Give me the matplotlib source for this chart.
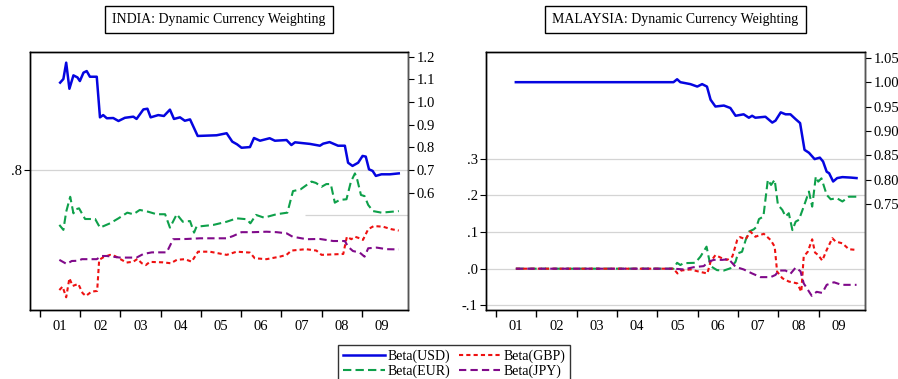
import numpy as np
import matplotlib
matplotlib.use("Agg")
import matplotlib.pyplot as plt
from matplotlib.ticker import FixedLocator, FuncFormatter

plt.rcParams['font.family'] = ['Liberation Serif', 'DejaVu Serif']

years = list(range(2001, 2010))
year_labels = ["01", "02", "03", "04", "05", "06", "07", "08", "09"]

# ---- INDIA ----
india_usd_t = [2001.50, 2001.58, 2001.65, 2001.73, 2001.83, 2001.93, 2001.99, 2002.08, 2002.16, 2002.24,
               2002.41, 2002.49, 2002.57, 2002.66, 2002.82, 2002.95, 2003.11, 2003.32, 2003.40, 2003.57,
               2003.67, 2003.75, 2003.94, 2004.08, 2004.23, 2004.33, 2004.48, 2004.60, 2004.73, 2004.92,
               2005.39, 2005.64, 2005.78, 2005.90, 2006.01, 2006.22, 2006.32, 2006.47, 2006.71, 2006.84,
               2007.13, 2007.25, 2007.34, 2007.71, 2007.96, 2008.04, 2008.20, 2008.41, 2008.58, 2008.66,
               2008.77, 2008.91, 2009.02, 2009.10, 2009.18, 2009.27, 2009.35, 2009.49, 2009.70, 2009.92]
india_usd = [1.085, 1.101, 1.173, 1.058, 1.117, 1.108, 1.092, 1.129, 1.136, 1.111,
             1.111, 0.932, 0.942, 0.928, 0.929, 0.916, 0.930, 0.935, 0.925, 0.967,
             0.970, 0.932, 0.942, 0.938, 0.966, 0.925, 0.932, 0.917, 0.923, 0.850,
             0.853, 0.862, 0.825, 0.813, 0.798, 0.801, 0.841, 0.829, 0.840, 0.829,
             0.832, 0.810, 0.822, 0.815, 0.807, 0.816, 0.823, 0.807, 0.807, 0.732,
             0.718, 0.732, 0.762, 0.759, 0.703, 0.696, 0.674, 0.681, 0.681, 0.685]

india_eur_t = [2001.48, 2001.58, 2001.65, 2001.75, 2001.83, 2001.89, 2001.97, 2002.12, 2002.37, 2002.49,
               2002.74, 2002.95, 2003.17, 2003.32, 2003.48, 2003.69, 2003.90, 2004.11, 2004.23, 2004.40,
               2004.55, 2004.73, 2004.83, 2004.89, 2005.31, 2005.64, 2005.89, 2006.14, 2006.23, 2006.37,
               2006.57, 2006.88, 2007.15, 2007.29, 2007.48, 2007.63, 2007.75, 2007.86, 2008.00, 2008.12,
               2008.23, 2008.33, 2008.45, 2008.62, 2008.73, 2008.83, 2008.89, 2008.98, 2009.07, 2009.16,
               2009.28, 2009.49, 2009.74, 2009.92]
india_eur = [0.558, 0.536, 0.616, 0.682, 0.609, 0.627, 0.631, 0.584, 0.584, 0.546,
             0.565, 0.587, 0.612, 0.605, 0.624, 0.616, 0.605, 0.605, 0.546, 0.605,
             0.572, 0.575, 0.524, 0.550, 0.558, 0.572, 0.587, 0.583, 0.565, 0.602,
             0.590, 0.605, 0.612, 0.707, 0.715, 0.734, 0.749, 0.743, 0.726, 0.738,
             0.738, 0.656, 0.668, 0.671, 0.748, 0.785, 0.756, 0.690, 0.685, 0.646,
             0.619, 0.612, 0.616, 0.619]

india_gbp_t = [2001.48, 2001.56, 2001.65, 2001.73, 2001.81, 2001.95, 2002.06, 2002.14, 2002.28, 2002.42,
               2002.47, 2002.57, 2002.74, 2002.86, 2003.03, 2003.15, 2003.32, 2003.42, 2003.53, 2003.63,
               2003.73, 2004.06, 2004.25, 2004.40, 2004.60, 2004.77, 2004.93, 2005.22, 2005.64, 2005.89,
               2006.22, 2006.34, 2006.63, 2006.96, 2007.13, 2007.25, 2007.61, 2007.87, 2008.00, 2008.54,
               2008.63, 2008.74, 2008.83, 2008.95, 2009.03, 2009.16, 2009.30, 2009.53, 2009.74, 2009.92]
india_gbp = [0.271, 0.286, 0.239, 0.323, 0.289, 0.298, 0.257, 0.245, 0.264, 0.267,
             0.404, 0.415, 0.426, 0.421, 0.404, 0.392, 0.396, 0.408, 0.389, 0.381,
             0.395, 0.393, 0.389, 0.404, 0.407, 0.396, 0.440, 0.440, 0.426, 0.440,
             0.436, 0.411, 0.407, 0.418, 0.426, 0.445, 0.451, 0.445, 0.426, 0.430,
             0.506, 0.495, 0.506, 0.499, 0.492, 0.539, 0.553, 0.550, 0.539, 0.533]

india_jpy_t = [2001.48, 2001.66, 2001.79, 2001.95, 2002.04, 2002.41, 2002.53, 2002.66, 2002.99, 2003.40,
               2003.57, 2003.78, 2004.15, 2004.31, 2004.64, 2004.98, 2005.64, 2005.80, 2006.01, 2006.30,
               2006.63, 2006.88, 2007.13, 2007.28, 2007.63, 2007.96, 2008.29, 2008.58, 2008.66, 2008.78,
               2008.95, 2009.07, 2009.16, 2009.37, 2009.62, 2009.92]
india_jpy = [0.404, 0.386, 0.399, 0.400, 0.407, 0.407, 0.421, 0.421, 0.414, 0.414,
             0.430, 0.437, 0.437, 0.495, 0.496, 0.499, 0.499, 0.509, 0.526, 0.526,
             0.528, 0.526, 0.521, 0.506, 0.495, 0.496, 0.487, 0.487, 0.462, 0.443,
             0.436, 0.418, 0.455, 0.458, 0.451, 0.450]

# ---- MALAYSIA ----
malay_usd_t = [2001.49, 2005.40, 2005.49, 2005.57, 2005.82, 2005.99, 2006.11, 2006.23, 2006.32, 2006.44,
               2006.65, 2006.81, 2006.94, 2007.14, 2007.27, 2007.35, 2007.43, 2007.68, 2007.85, 2007.93,
               2008.06, 2008.18, 2008.30, 2008.43, 2008.54, 2008.65, 2008.76, 2008.90, 2009.03, 2009.11,
               2009.20, 2009.26, 2009.36, 2009.46, 2009.59, 2009.80, 2009.94]
malay_usd = [1.000, 1.000, 1.006, 1.000, 0.996, 0.991, 0.996, 0.991, 0.964, 0.950,
             0.952, 0.947, 0.931, 0.934, 0.927, 0.931, 0.927, 0.929, 0.917, 0.921,
             0.938, 0.934, 0.934, 0.924, 0.916, 0.861, 0.855, 0.842, 0.845, 0.837,
             0.816, 0.813, 0.796, 0.803, 0.805, 0.804, 0.803]

malay_eur_t = [2001.49, 2005.40, 2005.49, 2005.57, 2005.65, 2005.94, 2006.07, 2006.22, 2006.27, 2006.32,
               2006.48, 2006.65, 2006.81, 2006.94, 2007.00, 2007.10, 2007.19, 2007.27, 2007.39, 2007.46,
               2007.52, 2007.63, 2007.74, 2007.82, 2007.91, 2007.99, 2008.10, 2008.18, 2008.26, 2008.35,
               2008.43, 2008.51, 2008.63, 2008.76, 2008.84, 2008.93, 2008.99, 2009.07, 2009.20, 2009.30,
               2009.45, 2009.59, 2009.75, 2009.94]
malay_eur = [0.000, 0.000, 0.016, 0.010, 0.015, 0.016, 0.033, 0.060, 0.033, 0.007,
             -0.004, -0.005, 0.001, 0.019, 0.042, 0.046, 0.078, 0.101, 0.107, 0.114,
             0.135, 0.142, 0.242, 0.228, 0.242, 0.174, 0.160, 0.142, 0.151, 0.105,
             0.128, 0.133, 0.169, 0.210, 0.169, 0.251, 0.237, 0.246, 0.201, 0.189,
             0.192, 0.183, 0.196, 0.196]

malay_gbp_t = [2001.49, 2005.40, 2005.50, 2005.59, 2005.82, 2006.03, 2006.24, 2006.32, 2006.44, 2006.61,
               2006.73, 2006.86, 2006.98, 2007.05, 2007.19, 2007.31, 2007.43, 2007.64, 2007.81, 2007.91,
               2007.97, 2008.10, 2008.26, 2008.47, 2008.57, 2008.63, 2008.73, 2008.84, 2008.91, 2008.99,
               2009.09, 2009.20, 2009.34, 2009.42, 2009.59, 2009.75, 2009.94]
malay_gbp = [0.000, 0.000, -0.013, -0.005, -0.002, -0.008, -0.013, 0.019, 0.037, 0.028,
             0.024, 0.033, 0.078, 0.086, 0.080, 0.101, 0.087, 0.095, 0.078, 0.060,
             -0.008, -0.026, -0.035, -0.040, -0.063, 0.033, 0.046, 0.080, 0.044, 0.037,
             0.022, 0.051, 0.083, 0.074, 0.069, 0.053, 0.051]

malay_jpy_t = [2001.49, 2005.40, 2005.65, 2005.90, 2006.15, 2006.27, 2006.40, 2006.61, 2006.77, 2006.94,
               2007.14, 2007.35, 2007.56, 2007.81, 2007.93, 2008.01, 2008.18, 2008.30, 2008.43, 2008.55,
               2008.63, 2008.83, 2008.95, 2009.09, 2009.20, 2009.38, 2009.57, 2009.94]
malay_jpy = [0.000, 0.000, -0.002, 0.004, 0.007, 0.019, 0.024, 0.024, 0.026, 0.005,
             -0.002, -0.013, -0.023, -0.023, -0.017, -0.005, -0.005, -0.014, 0.003, -0.007,
             -0.040, -0.074, -0.063, -0.066, -0.044, -0.037, -0.044, -0.044]

c_usd, c_eur, c_gbp, c_jpy = '#0505e0', '#0ea04a', '#ee1111', '#800a8a'
lw = 1.5
style_eur = (0, (4, 2))
style_gbp = (0, (2, 1.5))
style_jpy = (0, (3.5, 2))
tick_fs = 10.5


def strip_zero(v, pos=None):
    s = f"{v:.1f}"
    return s.replace("0.", ".")


def setup_xaxis(ax):
    ax.set_xlim(2000.75, 2010.15)
    ax.xaxis.set_major_locator(FixedLocator(years))
    ax.xaxis.set_minor_locator(FixedLocator([y + 0.5 for y in years]))
    ax.tick_params(axis='x', which='major', length=5, direction='out', labelbottom=False, width=1)
    ax.tick_params(axis='x', which='minor', length=0, pad=7, labelsize=tick_fs)
    ax.set_xticklabels(year_labels, minor=True)


def panel(rect, title, usd, eur, gbp, jpy, ylim_l, ylim_r, lticks, rticks, rfmt, grid_ticks):
    ax = fig.add_axes(rect)
    ax2 = ax.twinx()
    setup_xaxis(ax)
    ax.set_ylim(*ylim_l)
    ax2.set_ylim(*ylim_r)
    for yv in grid_ticks:
        ax.axhline(yv, color='#d4d4d4', lw=0.9, zorder=0)
    ax.plot(eur[0], eur[1], color=c_eur, lw=lw, linestyle=style_eur, label='Beta(EUR)')
    ax.plot(gbp[0], gbp[1], color=c_gbp, lw=lw, linestyle=style_gbp, label='Beta(GBP)')
    ax.plot(jpy[0], jpy[1], color=c_jpy, lw=lw, linestyle=style_jpy, label='Beta(JPY)')
    ax2.plot(usd[0], usd[1], color=c_usd, lw=lw + 0.3, label='Beta(USD)')
    ax.set_yticks(lticks)
    ax.yaxis.set_major_formatter(FuncFormatter(strip_zero))
    ax.tick_params(axis='y', length=4, labelsize=tick_fs, pad=2)
    ax2.set_yticks(rticks)
    ax2.yaxis.set_major_formatter(FuncFormatter(lambda v, p: rfmt % v))
    ax2.tick_params(axis='y', length=4, labelsize=tick_fs, pad=2)
    for sp in list(ax.spines.values()) + list(ax2.spines.values()):
        sp.set_linewidth(1.0)
        sp.set_color('black')
    ax2.spines['right'].set_color('#555555')
    cx = rect[0] + rect[2] / 2
    fig.text(cx, 0.9486, title, ha='center', va='center', fontsize=10,
             bbox=dict(boxstyle='square,pad=0.5', fc='white', ec='black', lw=1.0))
    return ax, ax2


fig = plt.figure(figsize=(8.98, 3.79), dpi=100)

ax_in, ax_in2 = panel([30 / 898, 1 - 310 / 379, 378 / 898, 258 / 379],
                      "INDIA: Dynamic Currency Weighting",
                      (india_usd_t, india_usd), (india_eur_t, india_eur),
                      (india_gbp_t, india_gbp), (india_jpy_t, india_jpy),
                      (0.183, 1.320), (0.083, 1.220), [0.8],
                      [0.6, 0.7, 0.8, 0.9, 1.0, 1.1, 1.2], "%.1f", [0.8])
ax_in.hlines(0.6, 2007.58, 2010.15, color='#d4d4d4', lw=0.9, zorder=0)

ax_my, ax_my2 = panel([486 / 898, 1 - 310 / 379, 379 / 898, 258 / 379],
                      "MALAYSIA: Dynamic Currency Weighting",
                      (malay_usd_t, malay_usd), (malay_eur_t, malay_eur),
                      (malay_gbp_t, malay_gbp), (malay_jpy_t, malay_jpy),
                      (-0.1125, 0.590), (0.532, 1.062), [-0.1, 0.0, 0.1, 0.2, 0.3],
                      [0.75, 0.80, 0.85, 0.90, 0.95, 1.00, 1.05], "%.2f",
                      [-0.1, 0.0, 0.1, 0.2, 0.3])

h_usd = ax_my2.get_lines()[0]
h_eur, h_gbp, h_jpy = ax_my.get_lines()[-3:]
leg = fig.legend([h_usd, h_eur, h_gbp, h_jpy],
                 ['Beta(USD)', 'Beta(EUR)', 'Beta(GBP)', 'Beta(JPY)'],
                 loc='upper center', bbox_to_anchor=(454 / 898, 1 - 345 / 379), ncol=2,
                 fontsize=10, frameon=True, fancybox=False, edgecolor='black',
                 handlelength=3.0, handletextpad=0.2, columnspacing=0.6,
                 borderpad=0.35, labelspacing=0.1, borderaxespad=0)
leg.get_frame().set_linewidth(1.0)

fig.savefig("out.png", dpi=100)
